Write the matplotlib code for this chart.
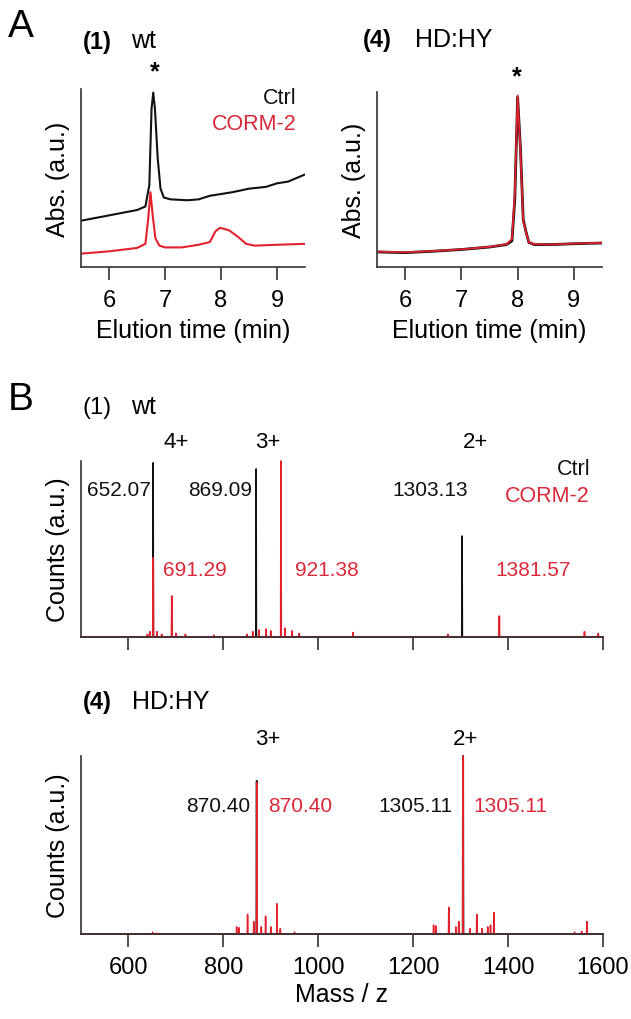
import matplotlib
matplotlib.use("Agg")
import matplotlib.pyplot as plt
import numpy as np

plt.rcParams['font.family'] = ['Liberation Sans', 'DejaVu Sans']

# ---------------- data ----------------
# Panel A (1) wt : HPLC traces, elution time (min) vs normalized absorbance
wt_ctrl_t = [5.5, 6.0, 6.5, 6.65, 6.72, 6.76, 6.79, 6.82, 6.87, 6.92, 6.98, 7.1, 7.4, 7.6, 7.8, 8.0, 8.2, 8.5, 8.8, 9.0, 9.2, 9.5]
wt_ctrl_a = [0.26, 0.29, 0.32, 0.34, 0.46, 0.89, 0.98, 0.89, 0.61, 0.44, 0.39, 0.38, 0.375, 0.38, 0.40, 0.41, 0.42, 0.44, 0.45, 0.47, 0.48, 0.52]
wt_corm_t = [5.5, 6.0, 6.5, 6.65, 6.7, 6.74, 6.78, 6.83, 6.9, 7.0, 7.3, 7.6, 7.8, 7.9, 7.98, 8.05, 8.15, 8.3, 8.45, 8.6, 9.0, 9.5]
wt_corm_a = [0.075, 0.088, 0.107, 0.13, 0.27, 0.42, 0.29, 0.16, 0.12, 0.11, 0.11, 0.125, 0.14, 0.20, 0.22, 0.215, 0.205, 0.17, 0.13, 0.12, 0.125, 0.13]

# Panel A (4) HD:HY
hd_ctrl_t = [5.5, 6.0, 6.5, 7.0, 7.5, 7.8, 7.9, 7.95, 8.0, 8.05, 8.1, 8.15, 8.2, 8.3, 8.6, 9.0, 9.5]
hd_ctrl_a = [0.086, 0.082, 0.09, 0.10, 0.114, 0.128, 0.15, 0.39, 0.97, 0.68, 0.27, 0.20, 0.14, 0.128, 0.128, 0.133, 0.137]
hd_corm_t = [5.5, 6.0, 6.5, 7.0, 7.5, 7.8, 7.9, 7.95, 8.0, 8.05, 8.1, 8.15, 8.2, 8.3, 8.6, 9.0, 9.5]
hd_corm_a = [0.088, 0.084, 0.091, 0.101, 0.115, 0.13, 0.16, 0.42, 0.98, 0.66, 0.26, 0.20, 0.14, 0.13, 0.128, 0.134, 0.138]

# Panel B (1) wt : mass spectra (m/z, relative counts)
msw_ctrl_mz = [652.07, 869.09, 1303.13]
msw_ctrl_h = [0.99, 0.955, 0.574]
msw_corm_mz = [640, 645, 652.07, 660, 670, 691.29, 700, 720, 780, 850, 862, 875, 890, 900, 921.38,
               930, 945, 960, 1073, 1273, 1381.57, 1561, 1590]
msw_corm_h = [0.015, 0.03, 0.45, 0.03, 0.015, 0.233, 0.02, 0.015, 0.01, 0.015, 0.03, 0.04, 0.045, 0.035, 1.0,
              0.05, 0.035, 0.02, 0.025, 0.015, 0.119, 0.03, 0.02]

# Panel B (4) HD:HY
msh_ctrl_mz = [870.40, 1305.11]
msh_ctrl_h = [0.86, 1.0]
msh_corm_mz = [651, 660, 828, 833, 851, 864, 870.40, 880, 889, 900, 913, 920, 950, 1243, 1248, 1275, 1290, 1296,
               1305.11, 1320, 1334, 1345, 1357, 1363, 1370, 1540, 1555, 1566]
msh_corm_h = [0.01, 0.005, 0.04, 0.035, 0.11, 0.07, 0.85, 0.04, 0.10, 0.04, 0.17, 0.03, 0.01, 0.05, 0.045, 0.15,
              0.04, 0.07, 1.0, 0.03, 0.11, 0.03, 0.04, 0.05, 0.12, 0.01, 0.015, 0.07]

time_ticks = [6, 7, 8, 9]
mz_ticks = [600, 800, 1000, 1200, 1400, 1600]
TIME_LIM = (5.5, 9.5)
MZ_LIM = (500, 1600)

# ---------------- style ----------------
RED = '#e3202e'
RED_TXT = '#d9283a'
BLK = '#111111'
W, H = 631, 1020
fig = plt.figure(figsize=(W / 100, H / 100), dpi=100)


def rect(x0, y0, x1, y1):
    return [x0 / W, 1 - y1 / H, (x1 - x0) / W, (y1 - y0) / H]


def ftext(x, y, s, ha='left', va='center', **kw):
    fig.text(x / W, 1 - y / H, s, ha=ha, va=va, **kw)


def style(ax, ticks, lim, labels=True):
    for s in ('top', 'right'):
        ax.spines[s].set_visible(False)
    for s in ('left', 'bottom'):
        ax.spines[s].set_linewidth(1.2)
        ax.spines[s].set_color('#333333')
    ax.set_yticks([])
    ax.set_xlim(*lim)
    ax.set_xticks(ticks)
    ax.tick_params(axis='x', direction='out', length=9, width=1.2, color='#333333',
                   labelsize=17, pad=7, labelbottom=labels)


def stick(mz, h, lim):
    xs, ys = [lim[0]], [0.0]
    for m, v in sorted(zip(mz, h)):
        xs += [m - 0.6, m, m + 0.6]
        ys += [0.0, v, 0.0]
    xs.append(lim[1])
    ys.append(0.0)
    return xs, ys


# ---------------- panel A ----------------
axA1 = fig.add_axes(rect(81, 90, 305, 268))
axA1.plot(wt_ctrl_t, wt_ctrl_a, color=BLK, lw=1.5)
axA1.plot(wt_corm_t, wt_corm_a, color=RED, lw=1.5)
style(axA1, time_ticks, TIME_LIM)
axA1.set_ylim(0, 1)
axA1.set_xlabel('Elution time (min)', fontsize=18, labelpad=5)
axA1.set_ylabel('Abs. (a.u.)', fontsize=18, labelpad=8)

axA2 = fig.add_axes(rect(377, 93, 602, 268))
axA2.plot(hd_ctrl_t, hd_ctrl_a, color=BLK, lw=2.0)
axA2.plot(hd_corm_t, hd_corm_a, color=RED, lw=1.3)
style(axA2, time_ticks, TIME_LIM)
axA2.set_ylim(0, 1)
axA2.set_xlabel('Elution time (min)', fontsize=18, labelpad=5)
axA2.set_ylabel('Abs. (a.u.)', fontsize=18, labelpad=8)

ftext(8, 27, 'A', fontsize=28)
ftext(83, 42, '(1)', fontsize=17, fontweight='bold')
ftext(131, 41, 'wt', fontsize=18)
ftext(363, 41, '(4)', fontsize=17, fontweight='bold')
ftext(415, 40, 'HD:HY', fontsize=18)
ftext(155, 72, '*', ha='center', fontsize=18, fontweight='bold')
ftext(517, 77, '*', ha='center', fontsize=18, fontweight='bold')
ftext(297, 99, 'Ctrl', ha='right', fontsize=15.5, color=BLK)
ftext(297, 125, 'CORM-2', ha='right', fontsize=15.5, color=RED_TXT)

# ---------------- panel B (1) wt ----------------
axB1 = fig.add_axes(rect(81, 462, 603, 638))
x, y = stick(msw_ctrl_mz, msw_ctrl_h, MZ_LIM)
axB1.plot(x, y, color=BLK, lw=1.1, clip_on=False)
x, y = stick(msw_corm_mz, msw_corm_h, MZ_LIM)
axB1.plot(x, y, color=RED, lw=1.2, clip_on=False)
style(axB1, mz_ticks, MZ_LIM, labels=False)
axB1.set_ylim(0, 1)
axB1.set_ylabel('Counts (a.u.)', fontsize=18, labelpad=8)

ftext(8, 400, 'B', fontsize=28)
ftext(82, 408, '(1)', fontsize=17)
ftext(131, 407, 'wt', fontsize=18)
ftext(176, 442, '4+', ha='center', fontsize=16)
ftext(268, 442, '3+', ha='center', fontsize=16)
ftext(476, 442, '2+', ha='center', fontsize=16)
ftext(87, 490, '652.07', fontsize=15, color=BLK)
ftext(252, 490, '869.09', ha='right', fontsize=15, color=BLK)
ftext(468, 490, '1303.13', ha='right', fontsize=15, color=BLK)
ftext(590, 470, 'Ctrl', ha='right', fontsize=15.5, color=BLK)
ftext(590, 497, 'CORM-2', ha='right', fontsize=15.5, color=RED_TXT)
ftext(163, 570, '691.29', fontsize=15, color=RED_TXT)
ftext(295, 570, '921.38', fontsize=15, color=RED_TXT)
ftext(495, 570, '1381.57', fontsize=15, color=RED_TXT)

# ---------------- panel B (4) HD:HY ----------------
axB2 = fig.add_axes(rect(81, 757, 603, 935))
x, y = stick(msh_ctrl_mz, msh_ctrl_h, MZ_LIM)
axB2.plot(x, y, color=BLK, lw=1.4, clip_on=False)
x, y = stick(msh_corm_mz, msh_corm_h, MZ_LIM)
axB2.plot(x, y, color=RED, lw=1.1, clip_on=False)
style(axB2, mz_ticks, MZ_LIM)
axB2.set_ylim(0, 1)
axB2.set_xlabel('Mass / z', fontsize=18, labelpad=3)
axB2.set_ylabel('Counts (a.u.)', fontsize=18, labelpad=8)

ftext(83, 703, '(4)', fontsize=17, fontweight='bold')
ftext(132, 702, 'HD:HY', fontsize=18)
ftext(268, 740, '3+', ha='center', fontsize=16)
ftext(466, 740, '2+', ha='center', fontsize=16)
ftext(250, 807, '870.40', ha='right', fontsize=15, color=BLK)
ftext(268, 807, '870.40', fontsize=15, color=RED_TXT)
ftext(453, 807, '1305.11', ha='right', fontsize=15, color=BLK)
ftext(473, 807, '1305.11', fontsize=15, color=RED_TXT)

fig.savefig('out.png', dpi=100)
